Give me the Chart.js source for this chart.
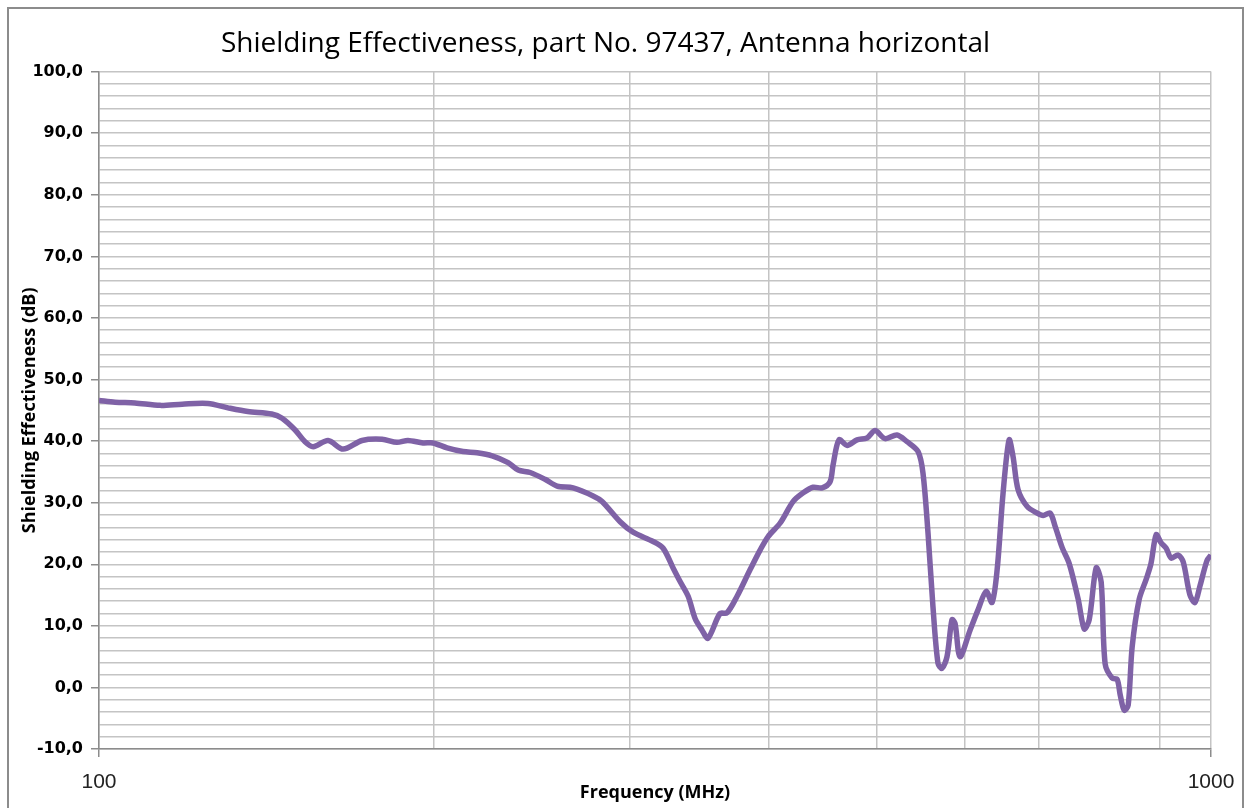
<!DOCTYPE html>
<html>
<head>
<meta charset="utf-8">
<script src="https://cdn.jsdelivr.net/npm/chart.js@4/dist/chart.umd.min.js"></script>
<style>
  body { margin: 0; background: #fff; }
  #wrap { width: 1250px; height: 808px; }
</style>
</head>
<body>
<div id="wrap"><canvas id="chart" width="1250" height="808"></canvas></div>
<script>
// frequency in MHz (log axis)
const freq = [
  100, 103.4, 107.7, 113.5, 118.8, 125.3, 130.6, 136.1, 143.0, 146.1,
  150.1, 153.2, 155.8, 160.7, 165.8, 172.4, 179.7, 185.3, 189.6, 195.6,
  199.7, 205.6, 212.5, 218.8, 225.7, 233.3, 238.2, 244.2, 251.8, 258.2,
  266.9, 278.2, 283.4, 294.2, 302.2, 315.0, 321.6, 328.3, 333.1, 338.7,
  343.6, 348.6, 352.9, 361.8, 367.0, 374.8, 385.0, 393.1, 399.7, 409.8,
  421.0, 429.8, 438.7, 447.0, 454.4, 457.2, 462.9, 470.7, 480.5, 490.5,
  498.8, 509.2, 521.9, 532.9, 545.2, 550.8, 556.6, 562.3, 568.2, 572.9,
  578.9, 584.9, 588.6, 594.7, 607.2, 617.3, 627.7, 635.5, 642.2, 650.1,
  658.3, 663.7, 670.7, 683.3, 697.6, 706.4, 716.7, 724.3, 734.8, 745.6,
  759.6, 769.1, 777.1, 788.4, 796.6, 803.2, 814.9, 823.4, 828.6, 835.5,
  842.4, 849.4, 861.8, 874.5, 883.1, 892.7, 901.6, 911.4, 920.9, 934.3,
  944.0, 957.4, 967.4, 977.5, 991.7, 1000
];
// shielding effectiveness in dB
const se = [
  46.6, 46.3, 46.2, 45.8, 46.0, 46.1, 45.4, 44.8, 44.4, 43.7,
  41.8, 39.9, 39.1, 40.1, 38.7, 40.1, 40.3, 39.8, 40.1, 39.7,
  39.7, 38.9, 38.3, 38.1, 37.6, 36.5, 35.3, 34.9, 33.8, 32.7,
  32.4, 31.1, 30.2, 26.9, 25.2, 23.7, 22.6, 19.4, 17.2, 14.8,
  11.2, 9.3, 8.0, 12.0, 12.1, 14.8, 19.1, 22.3, 24.5, 26.7,
  30.2, 31.6, 32.5, 32.4, 33.4, 36.1, 40.2, 39.3, 40.2, 40.5,
  41.7, 40.4, 41.0, 39.9, 38.3, 34.8, 25.0, 13.1, 3.9, 3.1,
  5.0, 11.0, 10.4, 5.0, 9.3, 12.6, 15.6, 13.8, 19.1, 31.5,
  40.2, 37.5, 32.1, 29.4, 28.3, 27.9, 28.3, 26.1, 22.7, 20.1,
  14.3, 9.5, 11.0, 19.4, 17.1, 3.8, 1.5, 1.3, -1.2, -3.7,
  -2.9, 6.6, 14.3, 17.6, 20.1, 24.8, 23.5, 22.6, 21.0, 21.5,
  20.4, 15.0, 13.8, 16.5, 20.6, 21.5
];
// vertical grid positions (no line at 800 in the original)
const xGrid = [100, 200, 300, 400, 500, 600, 700, 900, 1000];
const xLabels = [100, 1000];

const points = freq.map((f, i) => ({ x: f, y: se[i] }));

// outer frame around the whole chart
const frame = {
  id: "frame",
  afterDraw(chart) {
    const c = chart.ctx;
    c.save();
    c.strokeStyle = "#8c8c8c";
    c.lineWidth = 2;
    c.strokeRect(8, 8, 1235, 812);
    c.restore();
  },
};

new Chart(document.getElementById("chart"), {
  type: "scatter",
  data: {
    datasets: [
      {
        data: points,
        showLine: true,
        borderColor: "#7f62a6",
        borderWidth: 5.5,
        pointRadius: 0,
        tension: 0.3,
      },
    ],
  },
  options: {
    responsive: false,
    animation: false,
    layout: { padding: { left: 0, right: 39, top: 0, bottom: 0 } },
    plugins: {
      legend: { display: false },
      tooltip: { enabled: false },
      title: {
        display: true,
        text: "Shielding Effectiveness, part No. 97437, Antenna horizontal",
        color: "#000",
        font: { family: "Open Sans", size: 28, weight: "normal" },
        padding: { top: 27, bottom: 11 },
      },
    },
    scales: {
      x: {
        type: "logarithmic",
        min: 100,
        max: 1000,
        afterBuildTicks: (scale) => {
          scale.ticks = xGrid.map((v) => ({ value: v }));
        },
        afterFit: (scale) => {
          scale.height = 59;
        },
        ticks: {
          autoSkip: false,
          maxRotation: 0,
          padding: 13,
          color: "#222",
          font: { family: "Liberation Sans", size: 21 },
          callback: (v) => (xLabels.includes(v) ? String(v) : ""),
        },
        grid: {
          color: "#c4c4c4",
          lineWidth: 1.5,
          tickLength: 8,
          tickColor: (ctx) =>
            ctx.tick && xLabels.includes(ctx.tick.value) ? "#8c8c8c" : "rgba(0,0,0,0)",
        },
        border: { color: "#8c8c8c", width: 1.5 },
        title: {
          display: true,
          text: "Frequency (MHz)",
          color: "#000",
          font: { family: "Open Sans", size: 18, weight: "bold" },
          padding: { top: 0, bottom: 4 },
        },
      },
      y: {
        min: -10,
        max: 100,
        afterFit: (scale) => {
          scale.width = 99;
        },
        ticks: {
          stepSize: 2,
          autoSkip: false,
          padding: 8,
          color: "#000",
          font: { family: "DejaVu Sans", size: 16, weight: "bold" },
          callback: (v) => (v % 10 === 0 ? v.toFixed(1).replace(".", ",") : ""),
        },
        grid: {
          color: "#c4c4c4",
          lineWidth: 1.5,
          tickLength: 8,
          tickColor: (ctx) =>
            ctx.tick && ctx.tick.value % 10 === 0 ? "#8c8c8c" : "rgba(0,0,0,0)",
        },
        border: { color: "#8c8c8c", width: 1.5 },
        title: {
          display: true,
          text: "Shielding Effectiveness (dB)",
          color: "#000",
          font: { family: "Open Sans", size: 18, weight: "bold" },
          padding: { top: 19, bottom: 0 },
        },
      },
    },
  },
  plugins: [frame],
});
</script>
</body>
</html>
